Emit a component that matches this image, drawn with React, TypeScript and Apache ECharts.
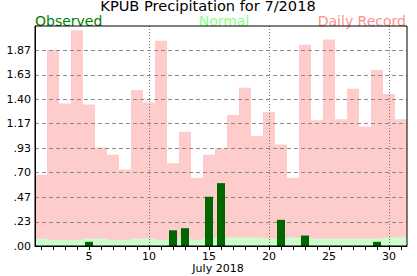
import React, { useEffect, useRef } from "react";
import * as echarts from "echarts";

const days = Array.from({ length: 31 }, (_, i) => String(i + 1));

const recordValues = [
  0.68, 1.87, 1.36, 2.06, 1.35, 0.94, 0.87, 0.73, 1.49, 1.37, 1.96, 0.79, 1.09, 0.65, 0.87, 0.93,
  1.25, 1.51, 1.05, 1.28, 0.97, 0.65, 1.92, 1.2, 1.97, 1.21, 1.5, 1.14, 1.68, 1.45, 1.21,
];

const normalValues = [
  0.07, 0.06, 0.06, 0.06, 0.07, 0.07, 0.06, 0.06, 0.07, 0.07, 0.06, 0.06, 0.07, 0.06, 0.07, 0.08,
  0.08, 0.08, 0.08, 0.07, 0.07, 0.08, 0.08, 0.07, 0.07, 0.07, 0.07, 0.07, 0.07, 0.08, 0.08,
];

const observedValues = [
  0, 0, 0, 0, 0.04, 0, 0, 0, 0, 0, 0, 0.15, 0.17, 0, 0.47, 0.6, 0, 0, 0, 0, 0.25, 0, 0.1, 0, 0,
  0, 0, 0, 0.04, 0, 0,
];

const yMax = 2.1;
const yStep = 2.1 / 9;
const yGridValues = [1, 2, 3, 4, 5, 6, 7, 8].map((k) => k * yStep);
const verticalGridDays = ["10", "20", "30"];

const FONT = "DejaVu Sans";

export default function App() {
  const ref = useRef<HTMLDivElement>(null);
  useEffect(() => {
    if (!ref.current) return;
    const chart = echarts.init(ref.current, undefined, { renderer: "svg" });
    chart.setOption({
      animation: false,
      backgroundColor: "#ffffff",
      textStyle: { fontFamily: FONT },
      grid: {
        left: 35,
        top: 26,
        width: 372,
        height: 220,
        show: true,
        z: 10,
        backgroundColor: "transparent",
        borderColor: "#000",
        borderWidth: 1,
      },
      xAxis: [
        {
          type: "category",
          data: days,
          z: 10,
          axisLine: { show: true, lineStyle: { color: "#000", width: 1 } },
          axisTick: {
            show: true,
            alignWithLabel: true,
            interval: 0,
            length: 4,
            lineStyle: { color: "#000" },
          },
          axisLabel: {
            interval: (i: number) => (i + 1) % 5 === 0,
            color: "#000",
            fontSize: 11,
            fontFamily: FONT,
            margin: 5,
          },
          splitLine: { show: false },
        },
        {
          type: "category",
          data: days,
          show: false,
        },
      ],
      yAxis: {
        type: "value",
        min: 0,
        max: yMax,
        interval: yStep,
        z: 10,
        axisLine: { show: true, lineStyle: { color: "#000", width: 1 } },
        axisTick: { show: false },
        splitLine: { show: false },
        axisLabel: {
          color: "#000",
          fontSize: 11,
          fontFamily: FONT,
          margin: 4,
          formatter: (v: number) => (v > 2.05 ? "" : v.toFixed(2).replace(/^0/, "")),
        },
      },
      graphic: [
        {
          type: "text",
          x: 208,
          y: 6.2,
          scaleX: 1.08,
          style: {
            text: "KPUB Precipitation for 7/2018",
            fontSize: 13.5,
            lineHeight: 12,
            fontFamily: FONT,
            fill: "#000",
            align: "center",
            verticalAlign: "middle",
          },
        },
        {
          type: "text",
          x: 35,
          y: 21,
          style: {
            text: "Observed",
            fontSize: 14,
            lineHeight: 11,
            fontFamily: FONT,
            fill: "#008000",
            align: "left",
            verticalAlign: "middle",
          },
        },
        {
          type: "text",
          x: 224,
          y: 21,
          style: {
            text: "Normal",
            fontSize: 14,
            lineHeight: 11,
            fontFamily: FONT,
            fill: "#88ff88",
            align: "center",
            verticalAlign: "middle",
          },
        },
        {
          type: "text",
          x: 406,
          y: 21,
          style: {
            text: "Daily Record",
            fontSize: 14,
            lineHeight: 11,
            fontFamily: FONT,
            fill: "#ff9090",
            align: "right",
            verticalAlign: "middle",
          },
        },
        {
          type: "text",
          x: 218,
          y: 268,
          style: {
            text: "July 2018",
            fontSize: 11,
            fontFamily: FONT,
            fill: "#000",
            align: "center",
            verticalAlign: "middle",
          },
        },
      ],
      series: [
        {
          name: "Daily Record",
          type: "bar",
          xAxisIndex: 0,
          data: recordValues,
          barWidth: 12,
          barGap: "-100%",
          z: 2,
          itemStyle: { color: "#ffcccc" },
          markLine: {
            silent: true,
            symbol: ["none", "none"],
            label: { show: false },
            z: 5,
            data: [
              ...yGridValues.map((v) => ({
                yAxis: v,
                lineStyle: { color: "#8c8c8c", type: [4, 3], width: 1 },
              })),
              ...verticalGridDays.map((d) => ({
                xAxis: d,
                lineStyle: { color: "#777", type: [1, 2], width: 1 },
              })),
            ],
          },
        },
        {
          name: "Normal",
          type: "bar",
          xAxisIndex: 0,
          data: normalValues,
          barWidth: 12,
          barGap: "-100%",
          z: 3,
          itemStyle: { color: "#ccffcc" },
        },
        {
          name: "Observed",
          type: "bar",
          xAxisIndex: 1,
          data: observedValues,
          barWidth: 8,
          z: 7,
          itemStyle: { color: "#006600" },
        },
      ],
    });
    return () => chart.dispose();
  }, []);
  return (
    <div
      ref={ref}
      style={{ position: "fixed", left: 0, top: 0, width: 417, height: 276, background: "#fff" }}
    />
  );
}
